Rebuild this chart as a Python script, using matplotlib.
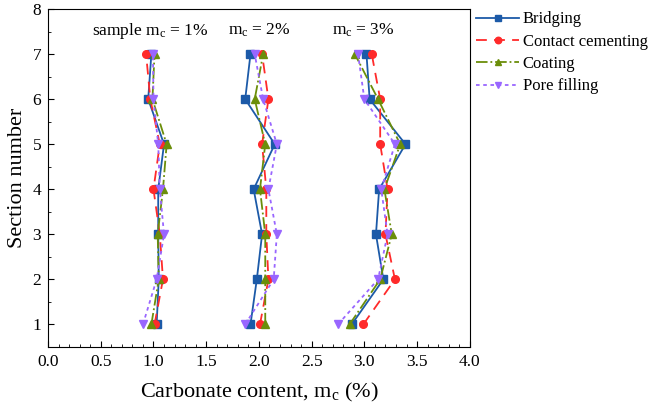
import numpy as np
from matplotlib import pyplot as plt
from matplotlib.ticker import MultipleLocator

plt.rcParams['font.family'] = ['Liberation Serif', 'DejaVu Serif']
plt.rcParams['mathtext.fontset'] = 'custom'
plt.rcParams['mathtext.rm'] = 'Liberation Serif'
plt.rcParams['mathtext.it'] = 'Liberation Serif:italic'

# -------------------------------------------------------------------
sections = [1, 2, 3, 4, 5, 6, 7]
series_names = ['Bridging', 'Contact cementing', 'Coating', 'Pore filling']

# carbonate content per section, one list per sample (mc = 1%, 2%, 3%)
bridging = [
    [1.03, 1.05, 1.045, 1.045, 1.10, 0.95, 0.98],
    [1.92, 1.98, 2.03, 1.95, 2.15, 1.87, 1.92],
    [2.88, 3.18, 3.11, 3.14, 3.39, 3.05, 3.02],
]
contact = [
    [1.01, 1.09, 1.06, 1.00, 1.06, 0.97, 0.93],
    [2.01, 2.09, 2.07, 2.07, 2.03, 2.09, 2.03],
    [2.99, 3.29, 3.20, 3.22, 3.15, 3.15, 3.07],
]
coating = [
    [0.98, 1.05, 1.04, 1.09, 1.125, 0.99, 1.01],
    [2.06, 2.06, 2.06, 2.01, 2.06, 1.96, 2.04],
    [2.86, 3.15, 3.26, 3.19, 3.34, 3.13, 2.91],
]
pore = [
    [0.90, 1.03, 1.10, 1.06, 1.045, 1.00, 0.995],
    [1.87, 2.14, 2.17, 2.09, 2.17, 2.04, 1.96],
    [2.75, 3.13, 3.22, 3.16, 3.29, 3.00, 2.94],
]

labels_txt = ['sample m$_\\mathrm{c}$ = 1%', 'm$_\\mathrm{c}$ = 2%', 'm$_\\mathrm{c}$ = 3%']
labels_x = [0.97, 2.0, 2.99]

# -------------------------------------------------------------------
styles = [
    dict(color='#1c5aa8', ls='-', marker='s'),
    dict(color='#ff2a2a', ls=(0, (6, 4)), marker='o'),
    dict(color='#6b8e0a', ls='-.', marker='^'),
    dict(color='#9966ff', ls=(0, (2, 2)), marker='v'),
]
all_data = [bridging, contact, coating, pore]

fig = plt.figure(figsize=(6.58, 4.13), dpi=100)
ax = fig.add_axes([0.073, 0.160, 0.641, 0.818])

for name, data, st in zip(series_names, all_data, styles):
    for k, vals in enumerate(data):
        ax.plot(vals, sections, color=st['color'], ls=st['ls'], lw=1.3,
                marker=st['marker'], ms=5.5, mec=st['color'], mfc=st['color'],
                label=name if k == 0 else None)

for t, xx in zip(labels_txt, labels_x):
    ax.text(xx, 7.52, t, ha='center', va='center', fontsize=12.5)

ax.set_xlim(0, 4)
ax.set_ylim(0.5, 8)
ax.xaxis.set_major_locator(MultipleLocator(0.5))
ax.xaxis.set_minor_locator(MultipleLocator(0.1))
ax.yaxis.set_major_locator(MultipleLocator(1))
ax.yaxis.set_minor_locator(MultipleLocator(0.5))
ax.tick_params(which='both', direction='in', top=False, right=False, labelsize=12.5)
ax.tick_params(which='major', length=4, pad=5)
ax.tick_params(which='minor', length=2)
ax.set_xlabel('Carbonate content, m$_\\mathrm{c}$ (%)', fontsize=16, labelpad=8)
ax.set_ylabel('Section number', fontsize=16, labelpad=4)

ax.legend(loc='upper left', bbox_to_anchor=(0.995, 1.018), frameon=False,
          fontsize=12, handlelength=2.6, handletextpad=0.2, labelspacing=0.38,
          borderaxespad=0.2, borderpad=0.3, markerscale=0.85)

fig.savefig('out.png', dpi=100)
